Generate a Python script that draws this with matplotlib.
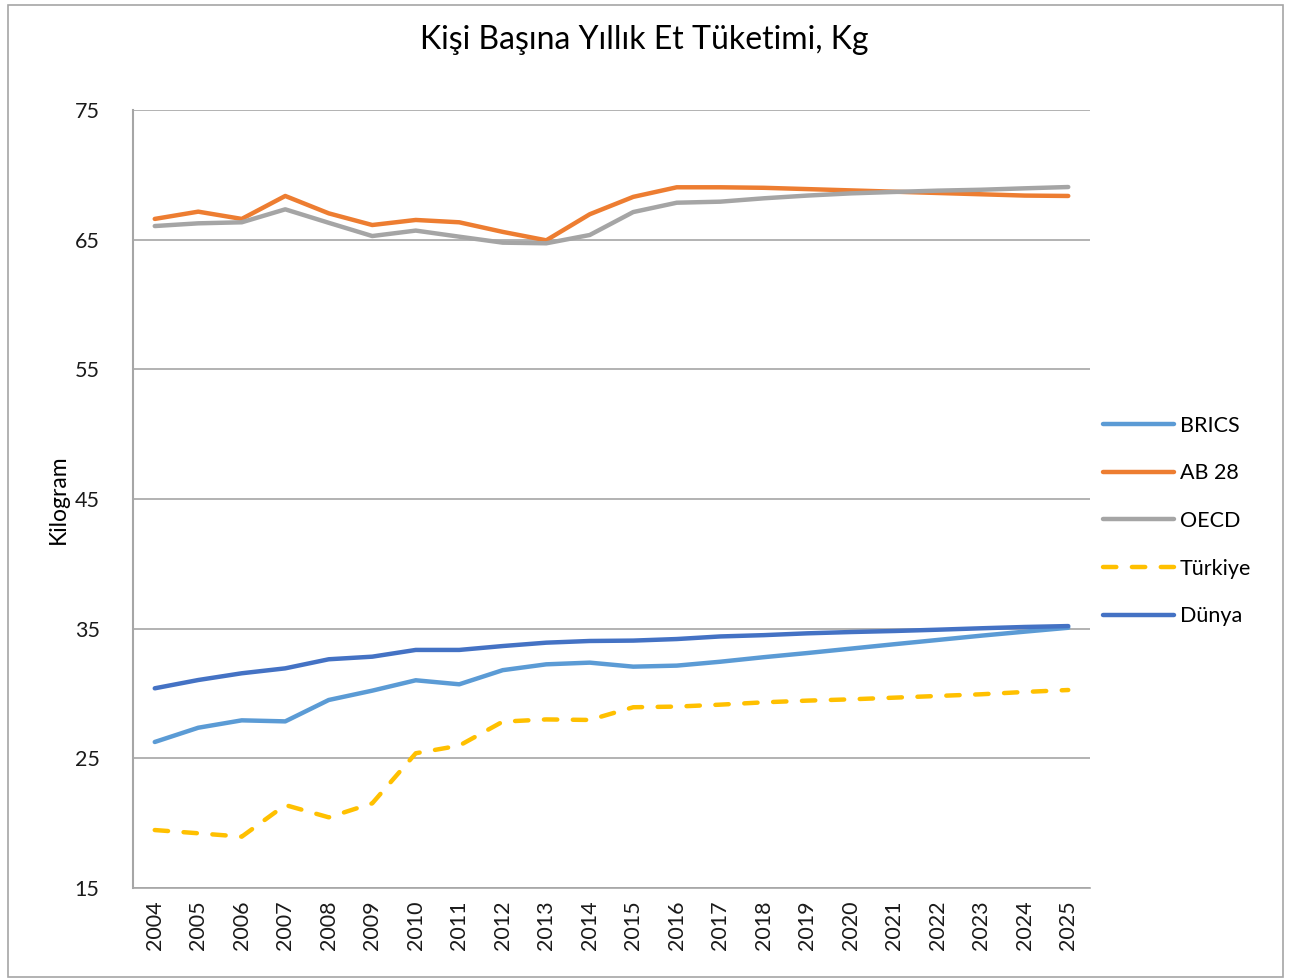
import numpy as np
import matplotlib.pyplot as plt
from matplotlib.patches import Rectangle

plt.rcParams['font.family'] = ['Lato', 'DejaVu Sans']

years = [str(y) for y in range(2004, 2026)]

brics = [26.26, 27.36, 27.93, 27.85, 29.5, 30.22, 31.02, 30.71, 31.8, 32.25, 32.38,
         32.07, 32.15, 32.45, 32.8, 33.12, 33.46, 33.8, 34.13, 34.46, 34.77, 35.07]
ab28 = [66.6, 67.16, 66.6, 68.37, 67.03, 66.13, 66.52, 66.34, 65.6, 64.95, 66.96,
        68.3, 69.04, 69.04, 69.0, 68.9, 68.8, 68.7, 68.6, 68.5, 68.4, 68.37]
oecd = [66.05, 66.26, 66.34, 67.34, 66.3, 65.28, 65.7, 65.23, 64.77, 64.72, 65.36,
        67.13, 67.85, 67.93, 68.19, 68.4, 68.57, 68.68, 68.78, 68.85, 68.96, 69.06]
turkiye = [19.47, 19.22, 18.96, 21.4, 20.45, 21.53, 25.39, 25.98, 27.83, 28.0, 27.96,
           28.94, 28.99, 29.14, 29.32, 29.45, 29.55, 29.68, 29.81, 29.94, 30.12, 30.27]
dunya = [30.4, 31.04, 31.56, 31.94, 32.64, 32.84, 33.36, 33.36, 33.66, 33.92, 34.05,
         34.08, 34.2, 34.4, 34.5, 34.64, 34.74, 34.82, 34.92, 35.03, 35.13, 35.2]

yticks = [15, 25, 35, 45, 55, 65, 75]

W, H = 1304, 980
fig = plt.figure(figsize=(W / 100, H / 100), dpi=100)
ax = fig.add_axes([133 / W, 1 - 888 / H, (1090 - 133) / W, (888 - 110) / H])

x = np.arange(len(years))
lw = 3.2
ax.plot(x, brics, color='#5B9BD5', lw=lw, label='BRICS', solid_capstyle='round')
ax.plot(x, ab28, color='#ED7D31', lw=lw, label='AB 28', solid_capstyle='round')
ax.plot(x, oecd, color='#A5A5A5', lw=lw, label='OECD', solid_capstyle='round')
ax.plot(x, turkiye, color='#FFC000', lw=lw, ls=(0, (3, 3.5)), label='Türkiye',
        dash_capstyle='round')
ax.plot(x, dunya, color='#4472C4', lw=lw, label='Dünya', solid_capstyle='round')

ax.set_xlim(-0.5, len(years) - 0.5)
ax.set_ylim(15, 75)
ax.set_yticks(yticks)
ax.set_xticks(x)
ax.set_xticklabels(years, rotation=90, fontsize=15.5, color='#1a1a1a')
ax.tick_params(axis='y', labelsize=15.5, length=0, pad=24, labelcolor='#1a1a1a')
ax.tick_params(axis='x', length=0, pad=9)
ax.grid(axis='y', color='#A6A6A6', lw=1.2)
ax.set_axisbelow(True)
for s in ['top', 'right']:
    ax.spines[s].set_visible(False)
ax.spines['left'].set_color('#A6A6A6')
ax.spines['left'].set_linewidth(1.5)
ax.spines['bottom'].set_color('#A6A6A6')
ax.spines['bottom'].set_linewidth(1.2)

ax.set_ylabel('Kilogram', fontsize=16.5, labelpad=4)
fig.text(0.494, 1 - 40 / H, 'Kişi Başına Yıllık Et Tüketimi, Kg', ha='center', va='center',
         fontsize=23)

leg = fig.legend(loc='center left', bbox_to_anchor=(1084 / W, 1 - 521 / H), frameon=False,
                 fontsize=15.5, handlelength=3.3, handletextpad=0.25, labelspacing=1.28)

fig.patches.append(Rectangle((8 / W, 1 - 977 / H), (1283 - 8) / W, (977 - 5) / H,
                             transform=fig.transFigure, fill=False, edgecolor='#A6A6A6',
                             lw=1.2))

fig.savefig('out.png', dpi=100)
